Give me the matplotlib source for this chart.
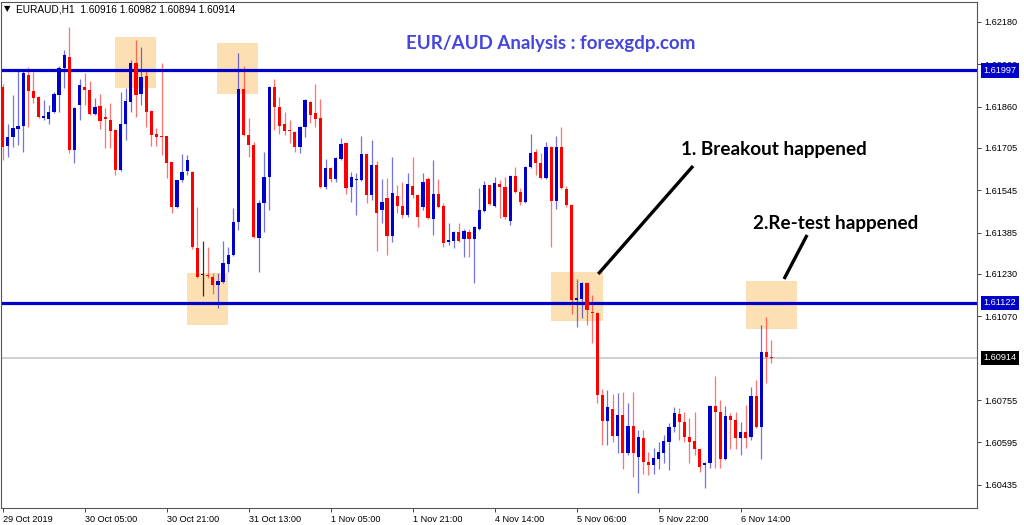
import numpy as np
import matplotlib.pyplot as plt
from matplotlib.patches import Rectangle

# Velas H1 de EURAUD (la más antigua primero)
opens = [
    1.61935, 1.61713, 1.61747, 1.61777, 1.61788, 1.61980, 1.61920, 1.61897, 1.61818, 1.61814,
    1.61841, 1.61905, 1.62007, 1.62048, 1.61698, 1.61867, 1.61935, 1.61924, 1.61833, 1.61863,
    1.61822, 1.61811, 1.61773, 1.61622, 1.61796, 1.61878, 1.62026, 1.61909, 1.61977, 1.61845,
    1.61758, 1.61750, 1.61750, 1.61652, 1.61483, 1.61584, 1.61618, 1.61615, 1.61328, 1.61226,
    1.61226, 1.61219, 1.61189, 1.61200, 1.61268, 1.61302, 1.61426, 1.61928, 1.61754, 1.61716,
    1.61366, 1.61498, 1.61596, 1.61935, 1.61860, 1.61796, 1.61773, 1.61765, 1.61709, 1.61784,
    1.61878, 1.61837, 1.61818, 1.61558, 1.61630, 1.61588, 1.61664, 1.61724, 1.61558, 1.61584,
    1.61584, 1.61682, 1.61528, 1.61641, 1.61471, 1.61517, 1.61373, 1.61524, 1.61486, 1.61452,
    1.61562, 1.61528, 1.61483, 1.61588, 1.61437, 1.61532, 1.61486, 1.61351, 1.61354, 1.61388,
    1.61362, 1.61388, 1.61362, 1.61400, 1.61468, 1.61566, 1.61486, 1.61569, 1.61558, 1.61430,
    1.61600, 1.61539, 1.61501, 1.61633, 1.61690, 1.61649, 1.61592, 1.61709, 1.61505, 1.61709,
    1.61551, 1.61490, 1.61132, 1.61136, 1.61196, 1.61087, 1.61083, 1.60774, 1.60676, 1.60721,
    1.60619, 1.60698, 1.60555, 1.60657, 1.60540, 1.60612, 1.60521, 1.60510, 1.60533, 1.60555,
    1.60597, 1.60653, 1.60702, 1.60672, 1.60616, 1.60600, 1.60570, 1.60510, 1.60518, 1.60732,
    1.60710, 1.60533, 1.60695, 1.60680, 1.60612, 1.60634, 1.60616, 1.60770, 1.60653, 1.60936,
    1.60916,
]
highs = [
    1.61946, 1.61796, 1.61905, 1.61999, 1.61999, 1.62010, 1.61992, 1.61901, 1.61886, 1.61867,
    1.61916, 1.62014, 1.62075, 1.62161, 1.61860, 1.61965, 1.61988, 1.61958, 1.61894, 1.61909,
    1.61856, 1.61875, 1.61777, 1.61916, 1.61931, 1.62037, 1.62112, 1.62086, 1.61999, 1.61848,
    1.61780, 1.62026, 1.61750, 1.61652, 1.61584, 1.61682, 1.61679, 1.61618, 1.61483, 1.61354,
    1.61332, 1.61234, 1.61234, 1.61354, 1.61332, 1.61479, 1.62063, 1.62014, 1.61818, 1.61728,
    1.61509, 1.61690, 1.61939, 1.61965, 1.61897, 1.61841, 1.61811, 1.61769, 1.61788, 1.61890,
    1.61882, 1.61946, 1.61890, 1.61664, 1.61633, 1.61671, 1.61743, 1.61724, 1.61615, 1.61611,
    1.61750, 1.61682, 1.61735, 1.61656, 1.61588, 1.61592, 1.61671, 1.61566, 1.61577, 1.61611,
    1.61671, 1.61528, 1.61611, 1.61596, 1.61660, 1.61588, 1.61498, 1.61422, 1.61392, 1.61422,
    1.61400, 1.61400, 1.61411, 1.61554, 1.61581, 1.61566, 1.61596, 1.61584, 1.61596, 1.61604,
    1.61633, 1.61554, 1.61637, 1.61758, 1.61701, 1.61686, 1.61728, 1.61713, 1.61750, 1.61784,
    1.61562, 1.61494, 1.61211, 1.61200, 1.61200, 1.61151, 1.61087, 1.60797, 1.60793, 1.60778,
    1.60782, 1.60786, 1.60744, 1.60786, 1.60642, 1.60642, 1.60559, 1.60574, 1.60597, 1.60623,
    1.60668, 1.60729, 1.60725, 1.60710, 1.60687, 1.60710, 1.60574, 1.60521, 1.60736, 1.60846,
    1.60755, 1.60732, 1.60706, 1.60710, 1.60672, 1.60736, 1.60804, 1.60831, 1.61038, 1.61068,
    1.60982,
]
lows = [
    1.61660, 1.61671, 1.61709, 1.61716, 1.61690, 1.61784, 1.61875, 1.61818, 1.61811, 1.61796,
    1.61837, 1.61841, 1.61931, 1.61686, 1.61649, 1.61811, 1.61867, 1.61829, 1.61829, 1.61777,
    1.61705, 1.61705, 1.61603, 1.61618, 1.61735, 1.61841, 1.61822, 1.61867, 1.61784, 1.61713,
    1.61713, 1.61679, 1.61592, 1.61460, 1.61479, 1.61577, 1.61603, 1.61324, 1.61215, 1.61147,
    1.61215, 1.61155, 1.61102, 1.61196, 1.61238, 1.61298, 1.61396, 1.61750, 1.61671, 1.61366,
    1.61238, 1.61388, 1.61471, 1.61773, 1.61758, 1.61754, 1.61724, 1.61690, 1.61686, 1.61747,
    1.61799, 1.61784, 1.61554, 1.61551, 1.61577, 1.61577, 1.61660, 1.61532, 1.61501, 1.61452,
    1.61580, 1.61498, 1.61509, 1.61317, 1.61422, 1.61302, 1.61351, 1.61460, 1.61441, 1.61445,
    1.61517, 1.61407, 1.61471, 1.61437, 1.61377, 1.61479, 1.61332, 1.61340, 1.61328, 1.61350,
    1.61294, 1.61294, 1.61196, 1.61396, 1.61464, 1.61490, 1.61483, 1.61441, 1.61437, 1.61415,
    1.61535, 1.61490, 1.61498, 1.61629, 1.61603, 1.61588, 1.61588, 1.61332, 1.61475, 1.61550,
    1.61483, 1.61079, 1.61030, 1.61064, 1.61038, 1.60970, 1.60744, 1.60585, 1.60585, 1.60596,
    1.60555, 1.60495, 1.60548, 1.60465, 1.60404, 1.60476, 1.60472, 1.60476, 1.60495, 1.60518,
    1.60491, 1.60634, 1.60604, 1.60597, 1.60518, 1.60548, 1.60484, 1.60423, 1.60499, 1.60499,
    1.60499, 1.60529, 1.60570, 1.60570, 1.60548, 1.60574, 1.60604, 1.60649, 1.60533, 1.60819,
    1.60894,
]
closes = [
    1.61709, 1.61747, 1.61780, 1.61788, 1.61988, 1.61920, 1.61894, 1.61822, 1.61826, 1.61841,
    1.61909, 1.62007, 1.62056, 1.61698, 1.61856, 1.61943, 1.61924, 1.61833, 1.61860, 1.61807,
    1.61814, 1.61769, 1.61622, 1.61796, 1.61882, 1.62026, 1.61905, 1.61973, 1.61841, 1.61754,
    1.61747, 1.61747, 1.61649, 1.61483, 1.61584, 1.61615, 1.61660, 1.61332, 1.61219, 1.61226,
    1.61223, 1.61189, 1.61204, 1.61272, 1.61302, 1.61426, 1.61928, 1.61754, 1.61716, 1.61370,
    1.61498, 1.61596, 1.61935, 1.61860, 1.61788, 1.61769, 1.61769, 1.61709, 1.61784, 1.61886,
    1.61829, 1.61814, 1.61558, 1.61630, 1.61588, 1.61667, 1.61720, 1.61554, 1.61596, 1.61588,
    1.61682, 1.61528, 1.61641, 1.61460, 1.61501, 1.61373, 1.61535, 1.61486, 1.61452, 1.61569,
    1.61528, 1.61445, 1.61577, 1.61441, 1.61532, 1.61483, 1.61347, 1.61358, 1.61388, 1.61354,
    1.61392, 1.61362, 1.61407, 1.61471, 1.61566, 1.61494, 1.61573, 1.61558, 1.61445, 1.61600,
    1.61539, 1.61501, 1.61633, 1.61686, 1.61649, 1.61592, 1.61709, 1.61505, 1.61709, 1.61554,
    1.61490, 1.61132, 1.61140, 1.61196, 1.61094, 1.61083, 1.60774, 1.60676, 1.60729, 1.60619,
    1.60698, 1.60555, 1.60657, 1.60555, 1.60616, 1.60521, 1.60510, 1.60536, 1.60559, 1.60600,
    1.60653, 1.60706, 1.60672, 1.60616, 1.60597, 1.60570, 1.60502, 1.60518, 1.60732, 1.60710,
    1.60533, 1.60695, 1.60680, 1.60612, 1.60634, 1.60612, 1.60770, 1.60653, 1.60936, 1.60917,
    1.60914,
]

# Etiquetas del eje de tiempo (una cada 16 velas)
time_labels = ["29 Oct 2019", "30 Oct 05:00", "30 Oct 21:00", "31 Oct 13:00", "1 Nov 05:00",
               "1 Nov 21:00", "4 Nov 14:00", "5 Nov 06:00", "5 Nov 22:00", "6 Nov 14:00"]
bars_per_label = 16
price_ticks = [1.62180, 1.62020, 1.61860, 1.61705, 1.61545, 1.61385,
               1.61230, 1.61070, 1.60755, 1.60595, 1.60435]
resistance = 1.61997
support = 1.61122
last_price = 1.60914
header = "EURAUD,H1  1.60916 1.60982 1.60894 1.60914"

o = np.array(opens)
h = np.array(highs)
l = np.array(lows)
c = np.array(closes)
x = np.arange(len(o))

BLUE = "#0000cc"
RED = "#ff0000"
body_col = np.where(c > o, BLUE, np.where(c < o, RED, "#202020"))
wick_col = [(0, 0, 0.8, 0.55) if cc > oo else (1, 0, 0, 0.55) if cc < oo else (0, 0, 0, 0.8)
            for oo, cc in zip(o, c)]

plt.rcParams['font.family'] = ['Liberation Sans', 'DejaVu Sans']

fig = plt.figure(figsize=(10.24, 5.25), dpi=100)
ax = fig.add_axes([1 / 1024, 17 / 525, 976 / 1024, 506 / 525])
ax.set_xlim(-0.33, 190.1)
ax.set_ylim(1.60348, 1.62255)

# Zonas sombreadas
box_col = "#fddfb4"
for i0, i1, p0, p1 in [(21.9, 29.9, 1.61931, 1.62124), (41.8, 49.8, 1.61909, 1.62101),
                       (35.96, 43.96, 1.61038, 1.61234), (107.0, 117.1, 1.61053, 1.61238),
                       (145.0, 155.0, 1.61023, 1.61204)]:
    ax.add_patch(Rectangle((i0, p0), i1 - i0, p1 - p0, facecolor=box_col, edgecolor='none', zorder=1))

ax.axhline(last_price, color="#c4c4c4", lw=1.1, zorder=1.5)
ax.axhline(resistance, color="#0000c8", lw=2.3, zorder=2.5)
ax.axhline(support, color="#0000c8", lw=2.3, zorder=2.5)

# Velas
ax.vlines(x, l, h, colors=wick_col, lw=0.9, zorder=2)
heights = np.maximum(np.abs(c - o), 0.00003)
ax.bar(x, heights, width=0.62, bottom=np.minimum(o, c), color=body_col, linewidth=0, zorder=3)

# Flechas de anotación
ax.plot([116.2, 134.7], [1.61230, 1.61637], color='black', lw=2.4, solid_capstyle='butt', zorder=4)
ax.plot([152.45, 156.95], [1.61211, 1.61377], color='black', lw=2.4, solid_capstyle='butt', zorder=4)
ax.text(150.4, 1.61698, "1. Breakout happened", fontsize=13.6, fontweight='bold',
        family=['Lato', 'DejaVu Sans'], ha='center', va='center', zorder=5)
ax.text(162.5, 1.61422, "2.Re-test happened", fontsize=13.6, fontweight='bold',
        family=['Lato', 'DejaVu Sans'], ha='center', va='center', zorder=5)

fig.text(551 / 1024, 1 - 44 / 525, "EUR/AUD Analysis : forexgdp.com", color="#4646dc",
         fontsize=13.5, fontweight='bold', family=['Lato', 'DejaVu Sans'], ha='center', va='center')
fig.text(7 / 1024, 1 - 9 / 525, "▼", fontsize=6, family='DejaVu Sans', ha='center', va='center')
fig.text(16 / 1024, 1 - 9 / 525, header, fontsize=7.3, ha='left', va='center')

# Ejes
ax.yaxis.tick_right()
ax.set_yticks(price_ticks)
ax.set_yticklabels([f"{p:.5f}" for p in price_ticks])
ax.set_xticks(np.arange(len(time_labels)) * bars_per_label)
ax.set_xticklabels(time_labels, ha='left')
ax.tick_params(axis='both', labelsize=6.6, length=3, width=0.7, color="#444444", pad=2)
for s in ax.spines.values():
    s.set_color("#555555")
    s.set_linewidth(0.8)

ytr = ax.get_yaxis_transform()
for p, fc in [(resistance, "#0000c8"), (support, "#0000c8"), (last_price, "black")]:
    ax.text(1.0066, p, f"{p:.5f}", transform=ytr, fontsize=6.6, color='white', ha='left',
            va='center', clip_on=False, zorder=6,
            bbox=dict(boxstyle='square,pad=0.28', fc=fc, ec='none'))

fig.savefig("out.png", dpi=100, facecolor='white')
